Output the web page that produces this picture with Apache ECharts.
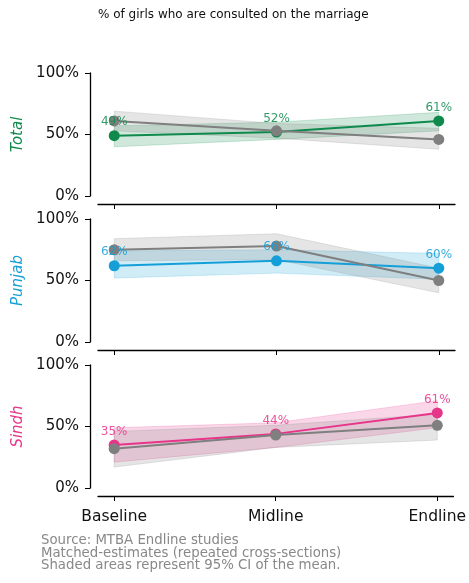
<!DOCTYPE html>
<html><head><meta charset="utf-8">
<script src="https://cdn.jsdelivr.net/npm/echarts@6/dist/echarts.min.js"></script>
<style>html,body{margin:0;padding:0;background:#fff}#c{width:469px;height:583px}</style>
</head><body><div id="c"></div>
<script>
const categories = ['Baseline', 'Midline', 'Endline'];
const panelNames = ['Total', 'Punjab', 'Sindh'];
const panelColors = ['#0f8a4c', '#159fd8', '#e7358a'];
const yTicks = [0, 50, 100];

const totalMain = [49, 52, 61];
const totalMainLow = [40, 46, 53];
const totalMainHigh = [57, 60, 68];
const totalGray = [61, 53, 46];
const totalGrayLow = [53, 47, 38];
const totalGrayHigh = [69, 59, 55];

const punjabMain = [62, 66, 60];
const punjabMainLow = [52, 56, 51];
const punjabMainHigh = [74, 75, 72];
const punjabGray = [75, 78, 50];
const punjabGrayLow = [66, 67, 40];
const punjabGrayHigh = [84, 88, 60];

const sindhMain = [35, 44, 61];
const sindhMainLow = [21, 33, 49];
const sindhMainHigh = [49, 53, 71];
const sindhGray = [32, 43, 51];
const sindhGrayLow = [17, 33, 39];
const sindhGrayHigh = [46, 51, 60];

const panels = [
  {main: totalMain, lo: totalMainLow, hi: totalMainHigh, g: totalGray, glo: totalGrayLow, ghi: totalGrayHigh},
  {main: punjabMain, lo: punjabMainLow, hi: punjabMainHigh, g: punjabGray, glo: punjabGrayLow, ghi: punjabGrayHigh},
  {main: sindhMain, lo: sindhMainLow, hi: sindhMainHigh, g: sindhGray, glo: sindhGrayLow, ghi: sindhGrayHigh}
];

const GRAY = '#7f7f7f';
const tops = [73, 219, 365];
const grids = [], xAxes = [], yAxes = [], series = [];
const pts = arr => arr.map((v, i) => [i, v]);

function bandSeries(k, lo, hi, color) {
  return {
    type: 'custom', xAxisIndex: k, yAxisIndex: k, silent: true, z: 1,
    data: lo.map((v, i) => [i, v, hi[i]]),
    encode: {x: 0, y: [1, 2]},
    renderItem: (params, api) => {
      if (params.dataIndex !== 0) return null;
      const upper = hi.map((v, i) => api.coord([i, v]));
      const lower = lo.map((v, i) => api.coord([i, v])).reverse();
      return {
        type: 'polygon',
        shape: {points: upper.concat(lower)},
        style: {fill: color, opacity: 0.2, stroke: color, lineWidth: 1}
      };
    }
  };
}

panels.forEach((p, k) => {
  const col = panelColors[k];
  grids.push({left: 98, right: 14, top: tops[k], height: 123});
  xAxes.push({
    type: 'value', gridIndex: k, min: -0.1, max: 2.1, offset: 8,
    axisLine: {show: true, onZero: false, lineStyle: {color: '#000', width: 1.3}},
    axisTick: {show: true, length: 5, lineStyle: {color: '#000'}, customValues: [0, 1, 2]},
    axisLabel: {show: k === 2, customValues: [0, 1, 2], formatter: v => categories[Math.round(v)],
      fontSize: 15.5, color: '#111', margin: 13, fontFamily: 'DejaVu Sans'},
    splitLine: {show: false}
  });
  yAxes.push({
    type: 'value', gridIndex: k, min: 0, max: 100, interval: 50, offset: 8,
    name: panelNames[k], nameLocation: 'middle', nameGap: 61, nameRotate: 90,
    nameTextStyle: {color: col, fontSize: 15, fontStyle: 'italic', fontFamily: 'DejaVu Sans'},
    axisLine: {show: true, onZero: false, lineStyle: {color: '#000', width: 1.3}},
    axisTick: {show: true, length: 5, lineStyle: {color: '#000'}},
    axisLabel: {formatter: '{value}%', fontSize: 15, color: '#111', margin: 11, fontFamily: 'DejaVu Sans'},
    splitLine: {show: false}
  });
  series.push(bandSeries(k, p.lo, p.hi, col));
  series.push(bandSeries(k, p.glo, p.ghi, GRAY));
  series.push({
    type: 'line', xAxisIndex: k, yAxisIndex: k, data: pts(p.main),
    symbol: 'circle', symbolSize: 11, itemStyle: {color: col}, lineStyle: {color: col, width: 2}, z: 3
  });
  series.push({
    type: 'line', xAxisIndex: k, yAxisIndex: k, data: pts(p.g),
    symbol: 'circle', symbolSize: 11, itemStyle: {color: GRAY}, lineStyle: {color: GRAY, width: 2}, z: 4
  });
  series.push({
    type: 'scatter', xAxisIndex: k, yAxisIndex: k, data: pts(p.main),
    symbol: 'circle', symbolSize: 1, itemStyle: {opacity: 0}, z: 10, silent: true,
    label: {show: true, position: 'top', distance: 7, color: col, fontSize: 12, fontFamily: 'DejaVu Sans',
      opacity: 0.85, formatter: d => d.value[1] + '%'}
  });
});

const chart = echarts.init(document.getElementById('c'), null, {renderer: 'canvas'});
chart.setOption({
  animation: false,
  title: {text: '% of girls who are consulted on the marriage', left: 98, top: 9, padding: 0,
    textStyle: {fontSize: 12, fontWeight: 'normal', color: '#111', fontFamily: 'DejaVu Sans'}},
  grid: grids, xAxis: xAxes, yAxis: yAxes, series: series,
  graphic: [{type: 'text', left: 41, top: 534, style: {
    text: 'Source: MTBA Endline studies\nMatched-estimates (repeated cross-sections)\nShaded areas represent 95% CI of the mean.',
    fill: '#888', fontSize: 13.3, lineHeight: 12.7, fontFamily: 'DejaVu Sans'}}]
});
</script></body></html>
